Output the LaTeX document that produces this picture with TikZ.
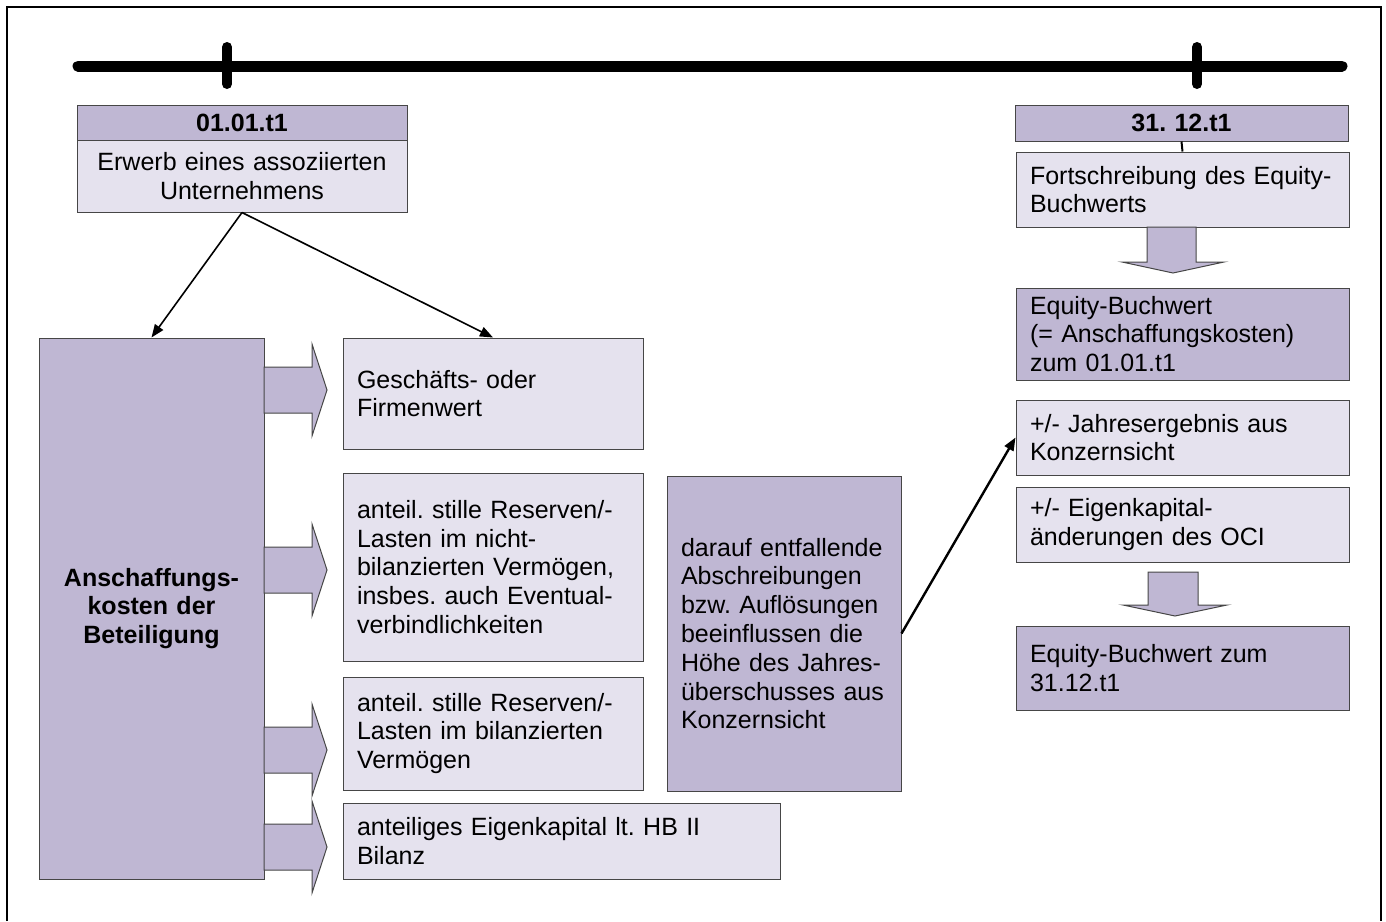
\documentclass[tikz,border=0pt]{standalone}
\usepackage{fontspec}
\setmainfont{Liberation Sans}
\frenchspacing
\usetikzlibrary{arrows.meta}
\definecolor{boxdark}{RGB}{191,183,211}
\definecolor{boxlight}{RGB}{229,226,238}
\definecolor{boxline}{RGB}{70,70,70}
\tikzset{>={Triangle[length=6.5pt,width=5pt]}}
\tikzset{
  darkbox/.style={draw=boxline,line width=0.5pt,fill=boxdark,inner xsep=7pt,inner ysep=0pt},
  lightbox/.style={draw=boxline,line width=0.5pt,fill=boxlight,inner xsep=7pt,inner ysep=0pt},
  bold/.style={font=\fontsize{12.5}{14.4}\selectfont\bfseries},
  blockarrow/.style={draw=boxline,line width=0.5pt,fill=boxdark,line join=miter},
  link/.style={->,line width=0.8pt},
}

\begin{document}
\begin{tikzpicture}[x=0.5pt,y=-0.5pt,font=\fontsize{12.5}{14.4}\selectfont]
    \useasboundingbox (0,0) rectangle (1386,921);
    \draw[line width=0.75pt] (7,921) -- (7,7) -- (1381,7) -- (1381,921);
    % time axis
    \draw[line width=5.5pt,line cap=round] (78,66) -- (1342,66);
    \draw[line width=5pt,line cap=round] (227,47) -- (227,84);
    \draw[line width=5pt,line cap=round] (1197,47) -- (1197,84);
    %
    \node[darkbox,bold,text width=151pt,align=center,minimum height=17.5pt] (start) at (242,122.5) {01.01.t1};
    \node[lightbox,text width=151pt,align=center,minimum height=36pt] (erwerb) at (242,176) {Erwerb eines assoziierten\\Unternehmens};
    \node[darkbox,bold,text width=152.5pt,align=center,minimum height=18pt] (ende) at (1181.5,123) {31. 12.t1};
    \node[lightbox,text width=152.5pt,align=left,minimum height=37.5pt] (fort) at (1182.5,189.5) {Fortschreibung des Equity-\\Buchwerts};
    \node[darkbox,text width=152.5pt,align=left,minimum height=46pt] (ebwalt) at (1182.5,334) {Equity-Buchwert\\(= Anschaffungskosten)\\zum 01.01.t1};
    \node[lightbox,text width=152.5pt,align=left,minimum height=37.5pt] (jahr) at (1182.5,437.5) {+/- Jahresergebnis aus\\Konzernsicht};
    \node[lightbox,text width=152.5pt,align=left,minimum height=37.5pt] (oci) at (1182.5,524.5) {+/- Eigenkapital-\\änderungen des OCI};
    \node[darkbox,text width=152.5pt,align=left,minimum height=42pt] (ebwneu) at (1182.5,668) {Equity-Buchwert zum\\31.12.t1};
    %
    \node[darkbox,bold,text width=98.5pt,align=center,minimum height=270.5pt] (ak) at (151.5,608.5) {Anschaffungs-\\kosten der\\Beteiligung};
    \node[lightbox,text width=136pt,align=left,minimum height=55.5pt] (gfw) at (493,393.5) {Geschäfts- oder\\Firmenwert};
    \node[lightbox,text width=136pt,align=left,minimum height=94pt] (srnb) at (493,567) {anteil. stille Reserven/-\\Lasten im nicht-\\bilanzierten Vermögen,\\insbes. auch Eventual-\\verbindlichkeiten};
    \node[lightbox,text width=136pt,align=left,minimum height=56.5pt] (srb) at (493,733.5) {anteil. stille Reserven/-\\Lasten im bilanzierten\\Vermögen};
    \node[lightbox,text width=204.5pt,align=left,minimum height=38pt] (ek) at (561.5,841) {anteiliges Eigenkapital lt. HB II\\Bilanz};
    \node[darkbox,text width=103pt,align=left,minimum height=157.5pt] (afa) at (784,633.5) {darauf entfallende\\Abschreibungen\\bzw. Auflösungen\\beeinflussen die\\Höhe des Jahres-\\überschusses aus\\Konzernsicht};
    % block arrows
    \draw[blockarrow] (264,367) -- (312,367) -- (312,344) -- (327,390) -- (312,436) -- (312,413) -- (264,413) -- cycle;
    \draw[blockarrow] (264,547) -- (312,547) -- (312,524) -- (327,570) -- (312,616) -- (312,593) -- (264,593) -- cycle;
    \draw[blockarrow] (264,727) -- (312,727) -- (312,704) -- (327,750) -- (312,796) -- (312,773) -- (264,773) -- cycle;
    \draw[blockarrow] (264,824) -- (312,824) -- (312,801) -- (327,847) -- (312,893) -- (312,870) -- (264,870) -- cycle;
    \draw[blockarrow] (1147,227) -- (1196,227) -- (1196,262) -- (1224,262) -- (1173,273) -- (1122,262) -- (1147,262) -- cycle;
    \draw[blockarrow] (1148,572) -- (1198,572) -- (1198,605) -- (1227,605) -- (1175,616) -- (1123,605) -- (1148,605) -- cycle;
    % connectors
    \draw[link] (erwerb.south) -- (ak.north);
    \draw[link] (erwerb.south) -- (gfw.north);
    \draw[link,line width=1.2pt] (afa.east) -- (jahr.west);
    \draw[line width=1pt] (ende.south) -- (fort.north);
\end{tikzpicture}
\end{document}
